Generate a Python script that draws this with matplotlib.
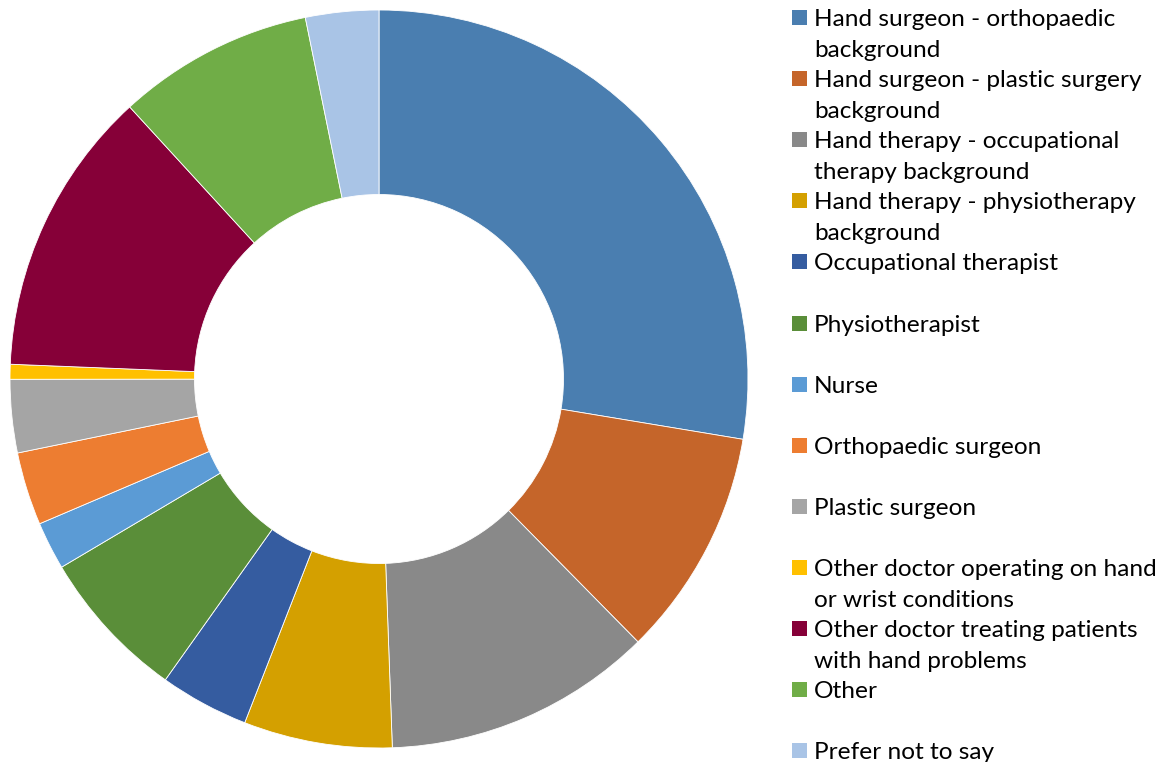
import matplotlib.pyplot as plt
from matplotlib.patches import Rectangle

labels = ['Hand surgeon - orthopaedic\nbackground',
          'Hand surgeon - plastic surgery\nbackground',
          'Hand therapy - occupational\ntherapy background',
          'Hand therapy - physiotherapy\nbackground',
          'Occupational therapist',
          'Physiotherapist',
          'Nurse',
          'Orthopaedic surgeon',
          'Plastic surgeon',
          'Other doctor operating on hand\nor wrist conditions',
          'Other doctor treating patients\nwith hand problems',
          'Other',
          'Prefer not to say']
shares = [27.6, 10.0, 11.8, 6.5, 3.9, 6.65, 2.1, 3.2, 3.2, 0.65, 12.55, 8.6, 3.2]
colors = ['#4a7eb0', '#c5652a', '#898989', '#d4a000', '#355ca0', '#5a8e39',
          '#5b9bd5', '#ed7d31', '#a5a5a5', '#ffc000', '#860038', '#70ad47',
          '#a9c4e6']

W, H = 1166, 762
fig = plt.figure(figsize=(W / 100, H / 100), dpi=100)
fig.patch.set_facecolor('white')

# pie area: centre (379,379) px, radius 369 px
ax = fig.add_axes([10 / W, (H - 748) / H, 738 / W, 738 / H])
ax.pie(shares, colors=colors, startangle=90, counterclock=False,
       radius=1.0, wedgeprops=dict(width=0.5, edgecolor='white', linewidth=0.6))
ax.set_xlim(-1, 1)
ax.set_ylim(-1, 1)
ax.set_aspect('equal')
ax.axis('off')

# legend drawn by hand so that multi-line labels stay top-aligned
top0, step = 10, 61.1
for i, (lab, col) in enumerate(zip(labels, colors)):
    top = top0 + i * step
    fig.patches.append(Rectangle((792 / W, 1 - (top + 15) / H), 15 / W, 15 / H,
                                 transform=fig.transFigure, facecolor=col,
                                 edgecolor='none'))
    for j, line in enumerate(lab.split('\n')):
        fig.text(814 / W, 1 - (top + 16 + j * 31) / H, line, fontsize=17.6,
                 family='Lato', color='black', va='baseline', ha='left')

fig.savefig('out.png', dpi=100)
